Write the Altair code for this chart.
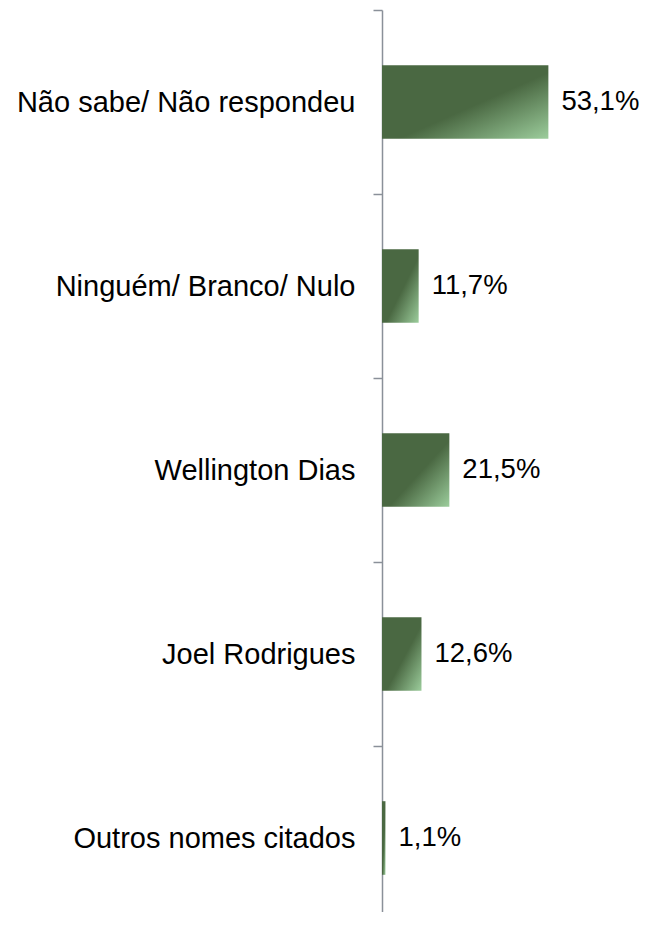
import altair as alt
import pandas as pd

categories = ["Não sabe/ Não respondeu", "Ninguém/ Branco/ Nulo", "Wellington Dias", "Joel Rodrigues", "Outros nomes citados"]
values = [53.1, 11.7, 21.5, 12.6, 1.1]
labels = ["53,1%", "11,7%", "21,5%", "12,6%", "1,1%"]

df = pd.DataFrame({"cat": categories, "val": values, "lab": labels})

font = "Liberation Sans"

y = alt.Y("cat:N", sort=categories, title=None,
          scale=alt.Scale(paddingInner=0, paddingOuter=0, range=[0, 920]),
          axis=alt.Axis(labelFontSize=29, labelFont=font, labelColor="#000000",
                        labelPadding=18, tickSize=9, tickColor="#8a9099",
                        domainColor="#8a9099", domainWidth=1.5, tickWidth=1.5,
                        tickBand="extent", labelLimit=400))
x = alt.X("val:Q", title=None, scale=alt.Scale(domain=[0, 60], nice=False),
          axis=None)

grad = alt.Gradient(gradient="linear", x1=0, y1=0, x2=1, y2=1,
                    stops=[alt.GradientStop(offset=0, color="#4a6842"),
                           alt.GradientStop(offset=0.55, color="#4a6842"),
                           alt.GradientStop(offset=1, color="#9ccd9c")])

bars = alt.Chart(df).mark_bar(color=grad, height=alt.RelativeBandSize(0.4)).encode(y=y, x=x)
text = alt.Chart(df).mark_text(align="left", baseline="middle", dx=13,
                               fontSize=27.5, font=font, color="#000000").encode(
    y=alt.Y("cat:N", sort=categories), x="val:Q", text="lab:N")

chart = (bars + text).properties(
    width=188, height=902, autosize="none",
    padding={"left": 374, "top": 2, "right": 72, "bottom": 0}
).configure_view(stroke=None)

chart.save("out.html", embed_options={"renderer": "svg", "actions": False})
